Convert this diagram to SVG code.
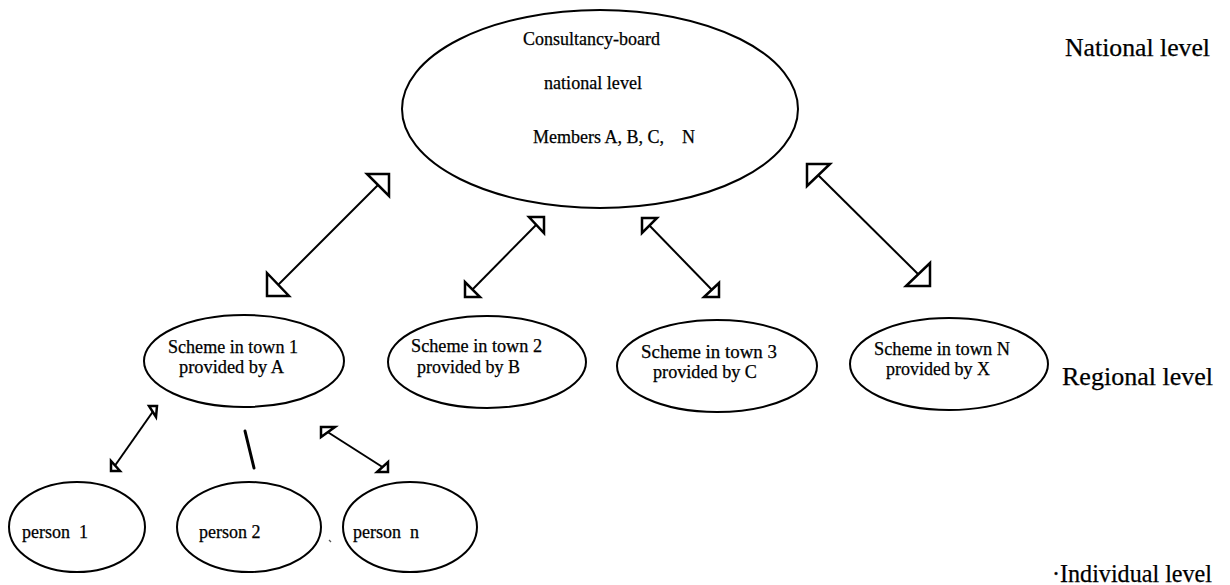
<svg xmlns="http://www.w3.org/2000/svg" width="1230" height="585" viewBox="0 0 1230 585">
<style>
  .node { fill: #fff; stroke: #000; stroke-width: 2; }
  .t { font-family: "Liberation Serif", "Times New Roman", serif; fill: #000; stroke: #000; stroke-width: 0.25; }
  .s17 { font-size: 18px; }
  .s18 { font-size: 18px; }
  .lvl { font-size: 25px; }
  .ln { stroke: #000; stroke-width: 2; fill: none; }
  .hd { fill: #fff; stroke: #000; stroke-width: 2.5; stroke-linejoin: miter; }
</style>
<rect width="1230" height="585" fill="#fff"/>

<g id="national">
  <ellipse class="node" cx="600" cy="109" rx="198" ry="99"/>
  <text class="t s18" x="523" y="45" textLength="137" lengthAdjust="spacingAndGlyphs">Consultancy-board</text>
  <text class="t s18" x="544" y="89" textLength="98" lengthAdjust="spacingAndGlyphs">national level</text>
  <text class="t s18" x="533" y="143" xml:space="preserve">Members A, B, C,    N</text>
</g>

<g id="town1">
  <ellipse class="node" cx="244" cy="361" rx="100" ry="46"/>
  <text class="t s17" x="168" y="353" textLength="130" lengthAdjust="spacingAndGlyphs">Scheme in town 1</text>
  <text class="t s17" x="179" y="373" textLength="105" lengthAdjust="spacingAndGlyphs">provided by A</text>
</g>
<g id="town2">
  <ellipse class="node" cx="487" cy="362" rx="99" ry="46"/>
  <text class="t s17" x="411" y="352" textLength="131" lengthAdjust="spacingAndGlyphs">Scheme in town 2</text>
  <text class="t s17" x="417" y="373" textLength="103" lengthAdjust="spacingAndGlyphs">provided by B</text>
</g>
<g id="town3">
  <ellipse class="node" cx="717" cy="366" rx="100" ry="46"/>
  <text class="t s17" x="641" y="358" textLength="136" lengthAdjust="spacingAndGlyphs">Scheme in town 3</text>
  <text class="t s17" x="653" y="378" textLength="104" lengthAdjust="spacingAndGlyphs">provided by C</text>
</g>
<g id="townN">
  <ellipse class="node" cx="949" cy="364" rx="99" ry="46"/>
  <text class="t s17" x="874" y="355" textLength="136" lengthAdjust="spacingAndGlyphs">Scheme in town N</text>
  <text class="t s17" x="886" y="375" textLength="104" lengthAdjust="spacingAndGlyphs">provided by X</text>
</g>

<g id="person1">
  <ellipse class="node" cx="77" cy="527" rx="68" ry="45"/>
  <text class="t s18" x="22" y="538" xml:space="preserve">person  1</text>
</g>
<g id="person2">
  <ellipse class="node" cx="249" cy="527" rx="72" ry="45"/>
  <text class="t s18" x="199" y="538">person 2</text>
</g>
<g id="personN">
  <ellipse class="node" cx="410" cy="527" rx="67" ry="45"/>
  <text class="t s18" x="353" y="538" xml:space="preserve">person  n</text>
</g>

<g id="levels">
  <text class="t lvl" x="1065" y="56" textLength="145" lengthAdjust="spacingAndGlyphs">National level</text>
  <text class="t lvl" x="1062" y="385" textLength="151" lengthAdjust="spacingAndGlyphs">Regional level</text>
  <text class="t lvl" x="1052" y="582" textLength="160" lengthAdjust="spacingAndGlyphs">·Individual level</text>
</g>

<g id="connectors">
  <line class="ln" x1="380" y1="183" x2="276" y2="287"/>
  <polygon class="hd" points="367,174 389,174 389,196"/>
  <polygon class="hd" points="267,273 267,296 289,296"/>

  <line class="ln" x1="539" y1="222" x2="470" y2="292"/>
  <polygon class="hd" points="529,217 544,217 544,233"/>
  <polygon class="hd" points="465,282 465,297 480,297"/>

  <line class="ln" x1="647" y1="223" x2="714" y2="292"/>
  <polygon class="hd" points="642,218 657,218 642,233"/>
  <polygon class="hd" points="719,283 719,297 704,297"/>

  <line class="ln" x1="816" y1="173" x2="921" y2="277"/>
  <polygon class="hd" points="807,164 830,164 807,186"/>
  <polygon class="hd" points="930,263 930,286 906,286"/>

  <line class="ln" x1="154" y1="410" x2="114" y2="467"/>
  <polygon class="hd" points="149,406 157,406 156,417"/>
  <polygon class="hd" points="111,461 111,471 120,471"/>

  <line x1="245" y1="431" x2="254" y2="468" stroke="#000" stroke-width="3" stroke-linecap="round"/>

  <line class="ln" x1="326" y1="431" x2="384" y2="468"/>
  <polygon class="hd" points="321,427 335,427 321,437"/>
  <polygon class="hd" points="388,462 388,472 377,472"/>

  <line x1="329" y1="540" x2="331" y2="542" stroke="#555" stroke-width="1.2"/>
</g>
</svg>
